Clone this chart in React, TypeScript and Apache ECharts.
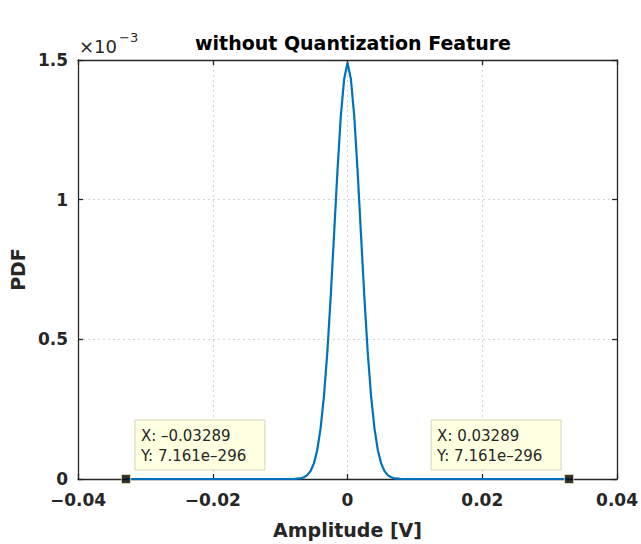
import React, { useEffect, useRef } from "react";
import * as echarts from "echarts";

// Amplitude [V] (x) and PDF values in units of 1e-3 (y)
const amplitude = [
  -0.03289, -0.008, -0.0075, -0.007, -0.0065, -0.006, -0.0055, -0.005, -0.0045, -0.004,
  -0.0035, -0.003, -0.0025, -0.002, -0.0015, -0.001, -0.0005, 0,
  0.0005, 0.001, 0.0015, 0.002, 0.0025, 0.003, 0.0035, 0.004, 0.0045,
  0.005, 0.0055, 0.006, 0.0065, 0.007, 0.0075, 0.008, 0.03289,
];
const pdfE3 = [
  0, 0, 0.001, 0.002, 0.006, 0.013, 0.028, 0.055, 0.103, 0.181,
  0.296, 0.453, 0.651, 0.875, 1.101, 1.298, 1.432, 1.49,
  1.432, 1.298, 1.101, 0.875, 0.651, 0.453, 0.296, 0.181, 0.103,
  0.055, 0.028, 0.013, 0.006, 0.002, 0.001, 0, 0,
];

// Data tips
const tipX = [-0.03289, 0.03289];
const tipY = [7.161e-296, 7.161e-296];
const tipYText = ["7.161e-296", "7.161e-296"];

const xMin = -0.04;
const xMax = 0.04;
const xStep = 0.02;
const yMin = 0;
const yMax = 1.5;
const yStep = 0.5;

const titleText = "without Quantization Feature";
const xName = "Amplitude [V]";
const yName = "PDF";

const FONT = "DejaVu Sans";
const AXIS_COLOR = "#262626";

function fmtX(v: number): string {
  const r = Math.round(v * 100) / 100;
  if (r === 0) return "0";
  return (r < 0 ? "\u2212" : "") + Math.abs(r).toFixed(2);
}
function fmtY(v: number): string {
  const r = Math.round(v * 10) / 10;
  return String(r);
}

export default function App() {
  const ref = useRef<HTMLDivElement>(null);
  useEffect(() => {
    if (!ref.current) return;
    const chart = echarts.init(ref.current, null, { renderer: "svg" });
    const axisLine = { show: true, onZero: false, lineStyle: { color: AXIS_COLOR, width: 1.3 } };
    const tick = { show: true, inside: true, length: 5, lineStyle: { color: AXIS_COLOR, width: 1.3 } };
    const grid = { show: true, lineStyle: { color: "#d4d4d4", type: [2, 3] as any, width: 1 } };
    chart.setOption({
      animation: false,
      title: {
        text: titleText,
        left: 348,
        top: 28,
        textAlign: "center",
        textStyle: { fontFamily: FONT, fontSize: 19, fontWeight: "bold", color: "#000" },
      },
      grid: { left: 78, right: 23, top: 60, bottom: 63, containLabel: false },
      xAxis: [
        {
          type: "value",
          min: xMin,
          max: xMax,
          interval: xStep,
          position: "bottom",
          axisLine,
          axisTick: tick,
          splitLine: grid,
          axisLabel: {
            formatter: fmtX,
            fontFamily: FONT,
            fontSize: 17,
            fontWeight: "bold",
            color: AXIS_COLOR,
            margin: 12,
          },
          name: xName,
          nameLocation: "middle",
          nameGap: 41,
          nameTextStyle: { fontFamily: FONT, fontSize: 19, fontWeight: "bold", color: AXIS_COLOR },
        },
        {
          type: "value",
          min: xMin,
          max: xMax,
          interval: xStep,
          position: "top",
          axisLine,
          axisTick: tick,
          splitLine: { show: false },
          axisLabel: { show: false },
        },
      ],
      yAxis: [
        {
          type: "value",
          min: yMin,
          max: yMax,
          interval: yStep,
          position: "left",
          axisLine,
          axisTick: tick,
          splitLine: grid,
          axisLabel: {
            formatter: fmtY,
            fontFamily: FONT,
            fontSize: 17,
            fontWeight: "bold",
            color: AXIS_COLOR,
            margin: 10,
          },
          name: yName,
          nameLocation: "middle",
          nameGap: 43,
          nameRotate: 90,
          nameTextStyle: { fontFamily: FONT, fontSize: 19, fontWeight: "bold", color: AXIS_COLOR },
        },
        {
          type: "value",
          min: yMin,
          max: yMax,
          interval: yStep,
          position: "right",
          axisLine,
          axisTick: tick,
          splitLine: { show: false },
          axisLabel: { show: false },
        },
      ],
      series: [
        {
          type: "line",
          xAxisIndex: 0,
          yAxisIndex: 0,
          data: amplitude.map((x, i) => [x, pdfE3[i]]),
          showSymbol: false,
          lineStyle: { color: "#0072BD", width: 2.2 },
          itemStyle: { color: "#0072BD" },
          z: 2,
        },
        {
          type: "scatter",
          xAxisIndex: 0,
          yAxisIndex: 0,
          data: tipX.map((x, i) => [x, tipY[i] / 1e-3]),
          symbol: "rect",
          symbolSize: 9,
          itemStyle: { color: "#000", borderColor: "#e8e4b0", borderWidth: 1 },
          z: 5,
          clip: false,
        },
      ],
    });

    const elements: any[] = [
      {
        type: "text",
        left: 79,
        top: 37,
        style: { text: "\u00d710", fontFamily: FONT, fontSize: 18, fill: AXIS_COLOR },
      },
      {
        type: "text",
        left: 119,
        top: 31,
        style: { text: "\u22123", fontFamily: FONT, fontSize: 13, fill: AXIS_COLOR },
      },
    ];
    tipX.forEach((x, i) => {
      const p = chart.convertToPixel({ xAxisIndex: 0, yAxisIndex: 0 }, [x, tipY[i] / 1e-3]) as number[];
      const w = 130;
      const h = 50;
      const bx = x < 0 ? p[0] + 9 : p[0] - 8 - w;
      const by = p[1] - 59;
      const xs = String(x).replace("-", "\u2013");
      elements.push({
        type: "rect",
        shape: { x: bx, y: by, width: w, height: h },
        style: { fill: "#ffffe1", stroke: "#d6d4b8", lineWidth: 1 },
        z: 10,
      });
      elements.push({
        type: "text",
        x: bx + 6,
        y: by + 16,
        style: {
          text: "X: " + xs,
          fontFamily: FONT,
          fontSize: 15,
          fill: "#262626",
          textVerticalAlign: "middle",
          verticalAlign: "middle",
        },
        z: 11,
      });
      elements.push({
        type: "text",
        x: bx + 6,
        y: by + 36,
        style: {
          text: "Y: " + tipYText[i].replace("-", "\u2013"),
          fontFamily: FONT,
          fontSize: 15,
          fill: "#262626",
          textVerticalAlign: "middle",
          verticalAlign: "middle",
        },
        z: 11,
      });
    });
    chart.setOption({ graphic: { elements } });

    return () => chart.dispose();
  }, []);
  return (
    <div
      ref={ref}
      style={{ position: "fixed", left: 0, top: 0, width: 641, height: 544, background: "#fff" }}
    />
  );
}
